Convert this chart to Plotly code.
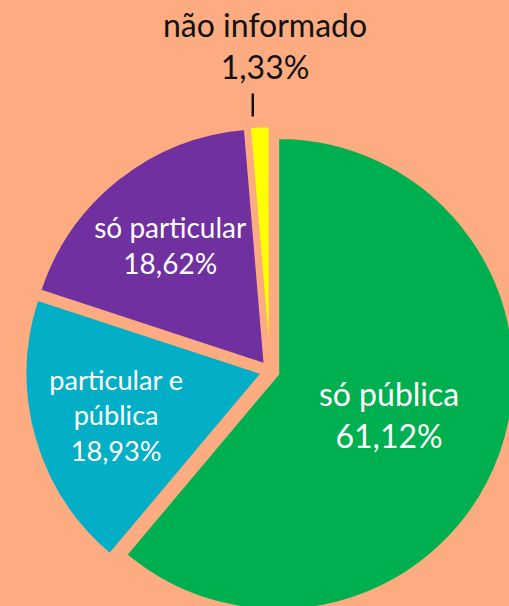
import math
import plotly.graph_objects as go

labels = ["só pública", "particular e pública", "só particular", "não informado"]
values = [61.12, 18.93, 18.62, 1.33]
texts = ["só pública<br>61,12%", "particular e<br>pública<br>18,93%", "só particular<br>18,62%", ""]
outside_label = "não informado<br>1,33%"
colors = ["#00B050", "#03AFC6", "#7030A0", "#FFFF00"]
pulls = [0.037, 0.037, 0.037, 0.037]

bg = "#FCAC80"

# figure is slightly larger than the window; the window crops it like the reference
W, H = 540, 630
cx, cy, r = 270, 371, 236
maxpull = max(pulls)
half = r * (1 + maxpull)
hy = min(half / H, (H - cy) / H, cy / H)
hx = min(half / W, cx / W, 1 - cx / W)
dom_x = [cx / W - hx, cx / W + hx]
dom_y = [(H - cy) / H - hy, (H - cy) / H + hy]

fig = go.Figure(go.Pie(
    labels=labels,
    values=values,
    text=texts,
    textinfo="text",
    textposition="inside",
    insidetextorientation="horizontal",
    sort=False,
    direction="clockwise",
    rotation=0,
    pull=pulls,
    marker=dict(colors=colors, line=dict(color=bg, width=2)),
    insidetextfont=dict(family="Lato", size=32, color="white"),
    domain=dict(x=dom_x, y=dom_y),
    hoverinfo="none",
))

# position of the outside label: above the outer tip of the last slice
rad = min(hx * W, hy * H) / (1 + maxpull)
frac = (sum(values[:-1]) + values[-1] / 2) / sum(values)
ang = 2 * math.pi * frac
tip_r = rad * (1 + pulls[-1])
tx = cx + tip_r * math.sin(ang)
ty = cy - tip_r * math.cos(ang)

# leader line
fig.add_shape(
    type="line", xref="paper", yref="paper",
    x0=(tx - 7) / W, x1=(tx - 7) / W,
    y0=(H - (ty - 10)) / H, y1=(H - (ty - 33)) / H,
    line=dict(color="#111111", width=2.5),
)
fig.add_annotation(
    x=(tx + 5) / W, y=(H - ty + 38) / H, xref="paper", yref="paper",
    text=outside_label, showarrow=False, yanchor="bottom",
    font=dict(family="Lato", size=32, color="#111111"),
)

fig.update_layout(
    width=W, height=H,
    margin=dict(l=0, r=0, t=0, b=0),
    paper_bgcolor=bg,
    plot_bgcolor=bg,
    showlegend=False,
)

fig.write_html(
    "out.html",
    config={"displayModeBar": False},
    post_script="document.body.style.margin='0';document.body.style.overflow='hidden';document.documentElement.style.overflow='hidden';",
)
